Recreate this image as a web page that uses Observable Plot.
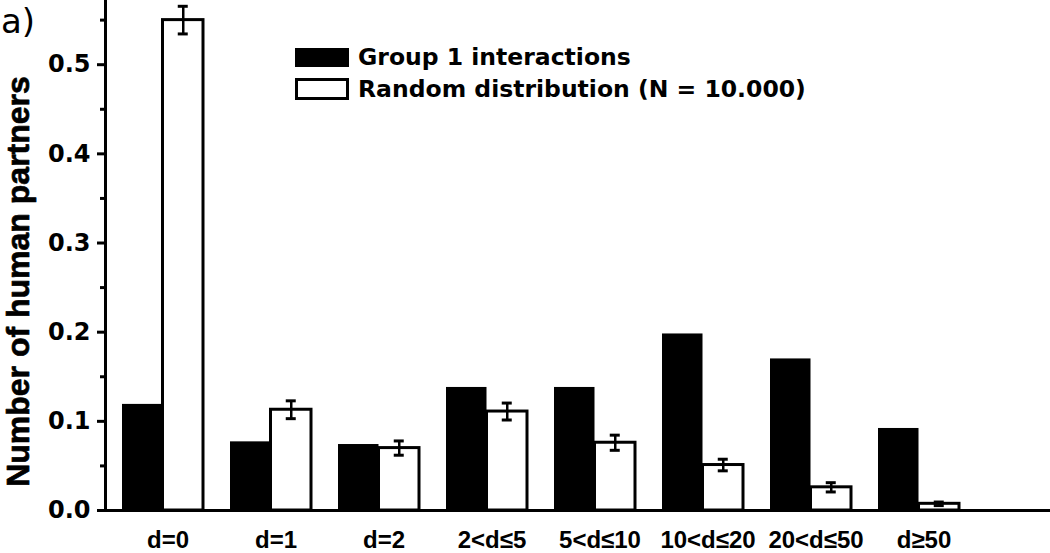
<!DOCTYPE html>
<html><head><meta charset="utf-8">
<script src="https://cdn.jsdelivr.net/npm/d3@7"></script>
<script src="https://cdn.jsdelivr.net/npm/@observablehq/plot@0.6"></script>
<style>
body{margin:0;background:#fff;}
#wrap{position:relative;width:1050px;height:553px;overflow:hidden;}
#tag{position:absolute;left:1px;top:1px;font-family:"DejaVu Sans",sans-serif;font-size:34px;line-height:40px;color:#000;}
.leg{position:absolute;left:295px;display:flex;align-items:center;font-family:"DejaVu Sans",sans-serif;font-weight:bold;font-size:23.5px;line-height:28px;color:#000;white-space:nowrap;}
.sw{width:54px;box-sizing:border-box;margin-right:9px;}
</style></head><body>
<div id="wrap"><div id="chart"></div><div id="tag">a)</div><div id="legend"></div></div>
<script>
const categories = ["d=0","d=1","d=2","2<d≤5","5<d≤10","10<d≤20","20<d≤50","d≥50"];
const group1 = [0.119,0.077,0.074,0.138,0.138,0.198,0.170,0.092];
const randomDist = [0.550,0.113,0.070,0.111,0.076,0.051,0.026,0.0075];
const randomErr = [0.0155,0.010,0.008,0.0095,0.0085,0.0065,0.0052,0.002];
const majorTicks = [0,0.1,0.2,0.3,0.4,0.5];
const minorTicks = [0.05,0.15,0.25,0.35,0.45,0.55];
const seriesNames = ["Group 1 interactions","Random distribution (N = 10.000)"];
const yLabel = "Number of human partners";

const rows = categories.map((c,i)=>({cat:c, g:group1[i], r:randomDist[i], lo:randomDist[i]-randomErr[i], hi:randomDist[i]+randomErr[i]}));

const half = 40.5;
const chart = Plot.plot({
  width:1050, height:553,
  marginLeft:105, marginRight:0, marginTop:0, marginBottom:43,
  x:{domain:categories, paddingInner:0.25, paddingOuter:0.5, align:0.157},
  y:{domain:[0,0.572]},
  style:{background:"#fff", color:"#000"},
  marks:[
    Plot.barY(rows,{x:"cat", y:"g", fill:"#000", insetRight:half}),
    Plot.barY(rows,{x:"cat", y:"r", fill:"#fff", stroke:"#000", strokeWidth:3, insetLeft:half}),
    Plot.ruleX(rows,{x:"cat", y1:"lo", y2:"hi", dx:20.25, stroke:"#000", strokeWidth:2.5}),
    Plot.tickY(rows,{x:"cat", y:"hi", insetLeft:55.75, insetRight:15.25, stroke:"#000", strokeWidth:3}),
    Plot.tickY(rows,{x:"cat", y:"lo", insetLeft:55.75, insetRight:15.25, stroke:"#000", strokeWidth:3}),
    Plot.axisY({ticks:majorTicks, tickFormat:d3.format(".1f"), tickSize:8, tickPadding:7, strokeWidth:3, label:null,
      fontFamily:"DejaVu Sans", fontWeight:"bold", fontSize:24}),
    Plot.axisY({ticks:minorTicks, tickFormat:()=>"", tickSize:5, strokeWidth:3, label:null}),
    Plot.text([yLabel], {text:d=>d, frameAnchor:"left", textAnchor:"middle", rotate:-90, dx:-86.5, dy:26,
      fontFamily:"Liberation Sans", fontWeight:"bold", fontSize:32, fill:"#000", stroke:"#000", strokeWidth:0.7}),
    Plot.axisX({tickSize:0, tickPadding:20, dx:5, label:null, fontFamily:"Liberation Sans", fontWeight:"bold", fontSize:24}),
    Plot.frame({anchor:"left", strokeWidth:3}),
    Plot.ruleY([0],{strokeWidth:3})
  ]
});
document.getElementById("chart").appendChild(chart);

const legend = document.getElementById("legend");
seriesNames.forEach((name,i)=>{
  const row = document.createElement("div");
  row.className = "leg";
  row.style.top = (i===0 ? 43 : 75) + "px";
  const sw = document.createElement("div");
  sw.className = "sw";
  if(i===0){sw.style.height="19px";sw.style.background="#000";}
  else{sw.style.height="22px";sw.style.background="#fff";sw.style.border="3px solid #000";}
  const t = document.createElement("span");
  t.textContent = name;
  row.appendChild(sw); row.appendChild(t);
  legend.appendChild(row);
});
</script>
</body></html>
